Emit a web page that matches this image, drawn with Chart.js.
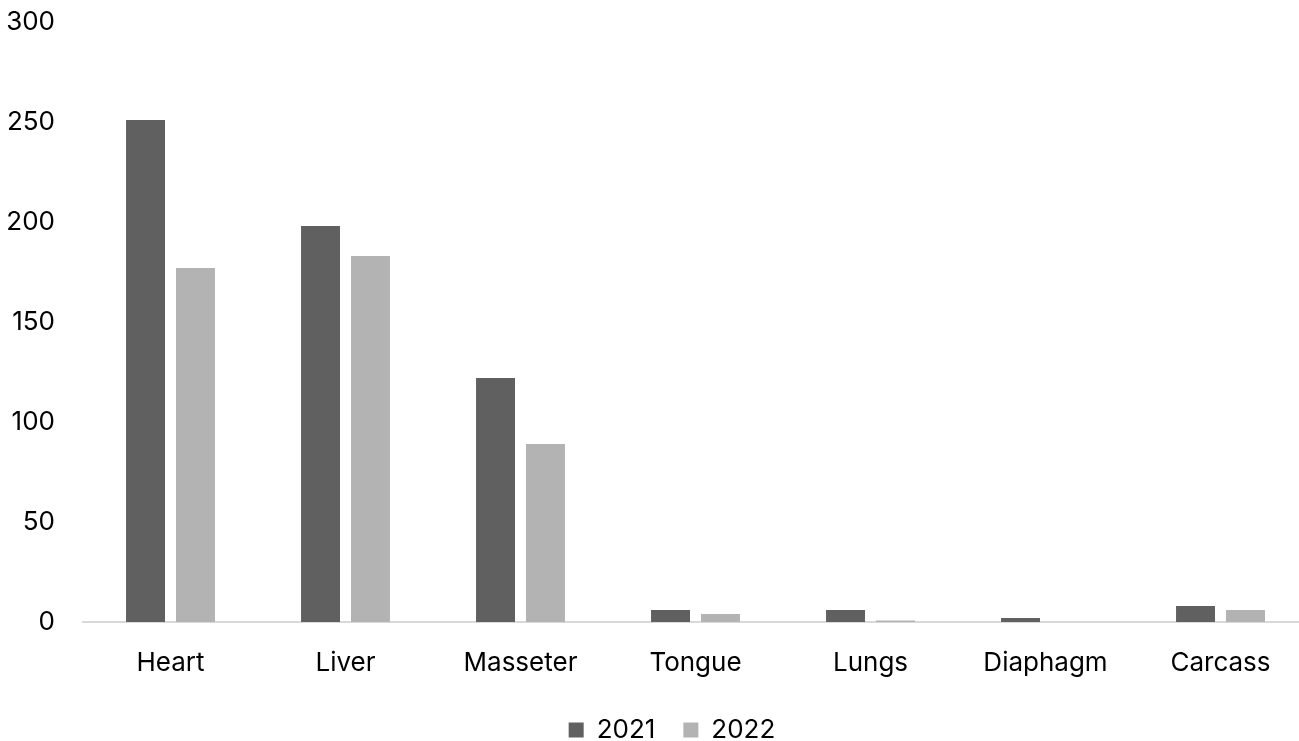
<!DOCTYPE html>
<html lang="en">
<head>
  <meta charset="UTF-8" />
  <title>Organ counts 2021 vs 2022</title>
  <script src="https://cdn.jsdelivr.net/npm/chart.js"></script>
  <style>
    html, body {
      margin: 0;
      padding: 0;
      background: #fff;
      overflow: hidden;
    }
    .wrap {
      width: 1299px;
      height: 741px;
      overflow: hidden;
    }
    /* the original picture is cropped on the right and bottom, so the canvas is a bit bigger */
    .chart-box {
      width: 1344px;
      height: 753px;
    }
  </style>
</head>
<body>
  <div class="wrap">
    <div class="chart-box">
      <canvas id="organChart"></canvas>
    </div>
  </div>

  <script>
    const categories = ['Heart', 'Liver', 'Masseter', 'Tongue', 'Lungs', 'Diaphagm', 'Carcass'];
    const values2021 = [251, 198, 122, 6, 6, 2, 8];
    const values2022 = [177, 183, 89, 4, 0.7, 0, 6];
    const yTicks = [0, 50, 100, 150, 200, 250, 300];

    const font = { family: 'Inter, "Liberation Sans", sans-serif', size: 26 };

    const ctx = document.getElementById('organChart').getContext('2d');

    new Chart(ctx, {
      type: 'bar',
      data: {
        labels: categories,
        datasets: [
          { label: '2021', data: values2021, backgroundColor: '#606060' },
          { label: '2022', data: values2022, backgroundColor: '#b3b3b3' }
        ]
      },
      options: {
        responsive: true,
        maintainAspectRatio: false,
        animation: false,
        layout: { padding: { top: 22, left: 0, right: 0, bottom: 0 } },
        datasets: {
          bar: { categoryPercentage: 0.571, barPercentage: 0.78 }
        },
        scales: {
          x: {
            afterFit: axis => { axis.height = 67; },
            grid: { display: false, drawTicks: false },
            border: { display: true, color: '#d9d9d9', width: 2 },
            ticks: { color: '#000', font: font, padding: 26 }
          },
          y: {
            min: 0,
            max: 300,
            afterBuildTicks: axis => { axis.ticks = yTicks.map(v => ({ value: v })); },
            afterFit: axis => { axis.width = 83; },
            // hidden tick marks give the gap between labels and plot
            grid: { display: false, drawTicks: true, tickLength: 28 },
            border: { display: false },
            ticks: { color: '#000', font: font, padding: 0 }
          },
          // empty spacer on the right so the plot runs past the crop like the original
          spacer: {
            type: 'linear',
            position: 'right',
            display: true,
            afterFit: axis => { axis.width = 36; },
            grid: { display: false, drawTicks: false },
            border: { display: false },
            ticks: { display: false }
          }
        },
        plugins: {
          legend: {
            position: 'bottom',
            labels: {
              color: '#000',
              font: font,
              boxWidth: 15,
              boxHeight: 15,
              padding: 28
            }
          },
          tooltip: { enabled: false }
        }
      }
    });
  </script>
</body>
</html>
